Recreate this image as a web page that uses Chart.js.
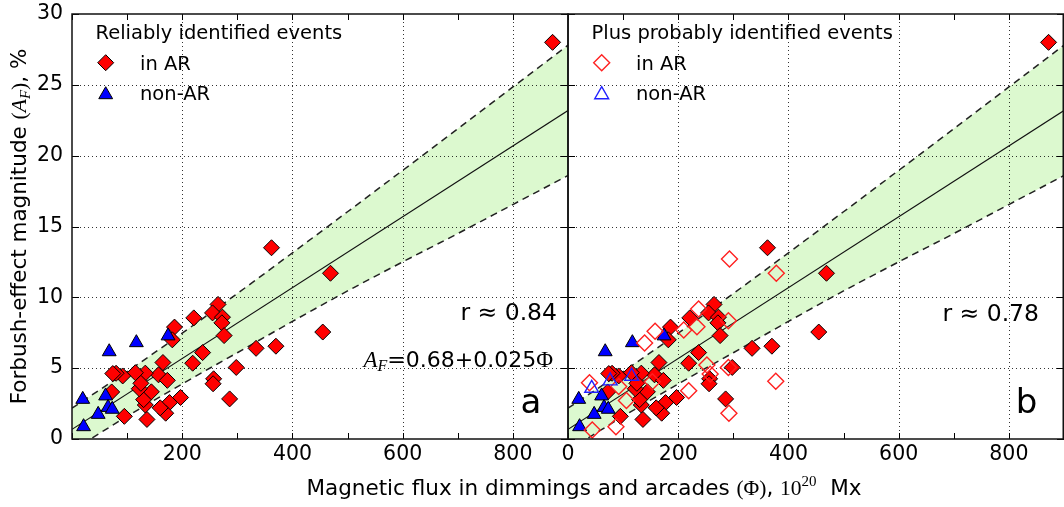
<!DOCTYPE html>
<html>
<head>
<meta charset="utf-8">
<script src="https://cdn.jsdelivr.net/npm/chart.js@4/dist/chart.umd.min.js"></script>
<style>
  html, body { margin: 0; padding: 0; background: #fff; }
  #wrap { width: 1064px; height: 507px; }
</style>
</head>
<body>
<div id="wrap"><canvas id="c" width="1064" height="507"></canvas></div>
<script>
// values: flux in 1e20 Mx, Forbush-effect magnitude in %

// reliably identified events in active regions (filled red diamonds, both panels)
const arFlux = [362, 265, 255, 273, 272, 221, 186, 182, 276, 237, 219, 334, 370, 298, 257, 256, 286,
  165, 157, 173, 197, 177, 170, 160, 136, 133, 130, 144, 122, 133, 115, 125, 92, 80, 74, 72, 95, 455, 469, 872];
const arAmp = [13.5, 9.5, 8.9, 8.6, 8.2, 8.55, 7.9, 7.0, 7.3, 6.1, 5.35, 6.4, 6.55, 5.05, 4.25, 3.9, 2.83,
  5.4, 4.53, 4.14, 2.93, 2.57, 1.82, 2.2, 1.38, 2.4, 2.78, 3.33, 3.55, 4.65, 4.68, 3.93, 4.45, 4.64, 4.62, 3.32, 1.6, 7.55, 11.7, 28.0];

// reliably identified non-AR events (filled blue triangles, both panels)
const nonArFlux = [19.5, 21, 47.5, 61, 65.5, 73, 67.5, 116.8, 174.3];
const nonArAmp = [2.8, 0.87, 1.74, 3.04, 2.23, 2.1, 6.16, 6.8, 7.28];

// probably identified events, panel b only (open markers)
const arProbFlux = [293, 378, 237, 234, 210, 291, 158, 139, 252, 258, 291, 377, 219, 292, 39, 44, 87, 106, 92, 153];
const arProbAmp = [12.7, 11.7, 9.18, 7.92, 7.7, 8.34, 7.6, 6.78, 5.23, 4.58, 5.05, 4.07, 3.4, 1.81, 3.97, 0.64, 0.87, 2.72, 3.7, 4.04];
const nonArProbFlux = [43, 76.5, 115.5];
const nonArProbAmp = [3.58, 4.1, 4.43];

// regression line and the dashed band around it
const fitFlux = [0, 900];
const fitAmp = [0.68, 23.18];
const bandFlux = [0, 100, 200, 300, 400, 500, 600, 700, 800, 900];
const bandUpper = [2.18, 4.76, 7.47, 10.27, 13.14, 16.04, 18.96, 21.9, 24.85, 27.8];
const bandLower = [-0.82, 1.6, 3.89, 6.09, 8.3, 10.45, 12.5, 14.5, 16.55, 18.6];

// ticks
const fluxLabelled = [0, 200, 400, 600, 800];
const ampStep = 5;

const SANS = "'DejaVu Sans'";
const SERIF = "'Liberation Serif'";
const BAND = 'rgb(220, 249, 207)';
const DIAMOND_R = 8;
const TRIANGLE_R = 8;

const pts = (xs, ys) => xs.map((x, i) => ({ x: x, y: ys[i] }));

function panelSets(axisId, withProbable) {
  const dashed = { type: 'line', pointRadius: 0, borderColor: '#222', borderWidth: 1.5,
    borderDash: [7, 5], cubicInterpolationMode: 'monotone' };
  const sets = [
    Object.assign({}, dashed, { isBand: true, data: pts(bandFlux, bandUpper), fill: '+1', backgroundColor: BAND, order: 9 }),
    Object.assign({}, dashed, { data: pts(bandFlux, bandLower), fill: false, order: 8 }),
    { type: 'line', data: pts(fitFlux, fitAmp), borderColor: '#111', borderWidth: 1.2, pointRadius: 0, fill: false, order: 7 },
    { data: pts(arFlux, arAmp), pointStyle: 'rectRot', pointRadius: DIAMOND_R,
      pointBackgroundColor: '#ff0000', pointBorderColor: '#000', pointBorderWidth: 1, order: 4 },
    { data: pts(nonArFlux, nonArAmp), pointStyle: 'triangle', pointRadius: TRIANGLE_R,
      pointBackgroundColor: '#0000ff', pointBorderColor: '#000', pointBorderWidth: 1, order: 3 }
  ];
  if (withProbable) {
    sets.push({ data: pts(arProbFlux, arProbAmp), pointStyle: 'rectRot', pointRadius: DIAMOND_R,
      pointBackgroundColor: 'rgba(0,0,0,0)', pointBorderColor: '#ff2020', pointBorderWidth: 1.4, order: 2 });
    sets.push({ data: pts(nonArProbFlux, nonArProbAmp), pointStyle: 'triangle', pointRadius: TRIANGLE_R,
      pointBackgroundColor: 'rgba(0,0,0,0)', pointBorderColor: '#2020ff', pointBorderWidth: 1.4, order: 1 });
  }
  sets.forEach(s => { s.xAxisID = axisId; s.yAxisID = 'y'; });
  return sets;
}

function fluxAxis(hideZero) {
  return {
    type: 'linear', position: 'bottom', stack: 'panels', stackWeight: 1,
    min: 0, max: 900,
    grid: { display: false, drawTicks: false },
    border: { display: false },
    ticks: {
      stepSize: 100, autoSkip: false, maxRotation: 0, padding: 3, color: '#000',
      font: { family: SANS, size: 20.5 },
      callback: v => (fluxLabelled.includes(v) && !(hideZero && v === 0)) ? String(v) : ''
    },
    afterFit: s => { s.height = 68; s.paddingLeft = 0; s.paddingRight = 0; }
  };
}

function richText(ctx, parts, x, y, align) {
  let w = 0;
  parts.forEach(p => { ctx.font = p[1]; w += ctx.measureText(p[0]).width; });
  let cx = align === 'right' ? x - w : (align === 'center' ? x - w / 2 : x);
  ctx.fillStyle = '#000';
  ctx.textAlign = 'left';
  ctx.textBaseline = 'alphabetic';
  parts.forEach(p => {
    ctx.font = p[1];
    ctx.fillText(p[0], cx, y + (p[2] || 0));
    cx += ctx.measureText(p[0]).width;
  });
}

function marker(ctx, style, x, y, r, fill, stroke, lw) {
  ctx.beginPath();
  if (style === 'rectRot') {
    ctx.moveTo(x, y - r); ctx.lineTo(x + r, y); ctx.lineTo(x, y + r); ctx.lineTo(x - r, y);
  } else {
    const k = Math.sin(2 * Math.PI / 3) * r;
    ctx.moveTo(x, y - r); ctx.lineTo(x + k, y + r / 2); ctx.lineTo(x - k, y + r / 2);
  }
  ctx.closePath();
  if (fill) { ctx.fillStyle = fill; ctx.fill(); }
  ctx.lineWidth = lw; ctx.strokeStyle = stroke; ctx.stroke();
}

function drawGrid(chart) {
  const { ctx, chartArea: a, scales } = chart;
  const ys = scales.y;
  ctx.save();
  ctx.strokeStyle = 'rgba(0,0,0,0.8)';
  ctx.lineWidth = 1;
  ctx.setLineDash([1, 3]);
  ctx.beginPath();
  ['x', 'x2'].forEach(id => {
    const s = scales[id];
    s.ticks.forEach(t => {
      if (t.value <= s.min || t.value >= s.max || !fluxLabelled.includes(t.value)) return;
      const px = Math.round(s.getPixelForValue(t.value)) + 0.5;
      ctx.moveTo(px, a.top); ctx.lineTo(px, a.bottom);
    });
    ys.ticks.forEach(t => {
      if (t.value <= ys.min || t.value >= ys.max) return;
      const py = Math.round(ys.getPixelForValue(t.value)) + 0.5;
      ctx.moveTo(s.left, py); ctx.lineTo(s.right, py);
    });
  });
  ctx.stroke();
  ctx.restore();
}

function drawFrames(chart) {
  const { ctx, chartArea: a, scales } = chart;
  const ys = scales.y;
  ctx.save();
  ctx.strokeStyle = '#000';
  ctx.lineWidth = 1;
  ctx.beginPath();
  ['x', 'x2'].forEach(id => {
    const s = scales[id];
    s.ticks.forEach(t => {
      const px = Math.round(s.getPixelForValue(t.value)) + 0.5;
      ctx.moveTo(px, a.bottom); ctx.lineTo(px, a.bottom - 6);
      ctx.moveTo(px, a.top); ctx.lineTo(px, a.top + 6);
    });
    ys.ticks.forEach(t => {
      const py = Math.round(ys.getPixelForValue(t.value)) + 0.5;
      ctx.moveTo(s.left, py); ctx.lineTo(s.left + 7, py);
      ctx.moveTo(s.right, py); ctx.lineTo(s.right - 7, py);
    });
  });
  ctx.stroke();
  ctx.lineWidth = 1.5;
  ctx.strokeStyle = '#111';
  ['x', 'x2'].forEach(id => {
    const s = scales[id];
    const r = Math.min(s.right, chart.width - 0.75);
    ctx.strokeRect(s.left, a.top, r - s.left, a.bottom - a.top);
  });
  ctx.restore();
}

function drawTexts(chart) {
  const { ctx, chartArea: a, scales } = chart;
  const la = scales.x.left, lb = scales.x2.left;
  const ra = scales.x.right, rb = scales.x2.right;
  ctx.save();

  // legends
  const lf = '19.5px ' + SANS;
  richText(ctx, [['Reliably identified events', lf]], la + 23.5, 38.5, 'left');
  marker(ctx, 'rectRot', la + 33.7, 62.7, DIAMOND_R, '#ff0000', '#000', 1);
  richText(ctx, [['in AR', lf]], la + 68, 69.5, 'left');
  marker(ctx, 'triangle', la + 33.7, 94.7, TRIANGLE_R, '#0000ff', '#000', 1);
  richText(ctx, [['non-AR', lf]], la + 68, 99.5, 'left');

  richText(ctx, [['Plus probably identified events', lf]], lb + 23.5, 38.5, 'left');
  marker(ctx, 'rectRot', lb + 33.7, 62.7, DIAMOND_R, null, '#ff2020', 1.4);
  richText(ctx, [['in AR', lf]], lb + 68, 69.5, 'left');
  marker(ctx, 'triangle', lb + 33.7, 94.7, TRIANGLE_R, null, '#2020ff', 1.4);
  richText(ctx, [['non-AR', lf]], lb + 68, 99.5, 'left');

  // correlation, fit and panel letters
  const rf = '23.5px ' + SANS;
  richText(ctx, [['r \u2248 0.84', rf]], ra - 11, 320, 'right');
  richText(ctx, [['r \u2248 0.78', rf]], rb - 25, 320.5, 'right');
  richText(ctx, [
    ['A', 'italic 23px ' + SERIF], ['F', 'italic 16px ' + SERIF, 4],
    ['=0.68+0.025', '22px ' + SANS], ['\u03A6', '23px ' + SERIF]
  ], ra - 15, 367, 'right');
  richText(ctx, [['a', '34px ' + SANS]], ra - 37, 413.3, 'center');
  richText(ctx, [['b', '34px ' + SANS]], rb - 37.5, 413.3, 'center');

  // axis titles
  const tf = '21.5px ' + SANS;
  richText(ctx, [
    ['Magnetic flux in dimmings and arcades ', tf], ['(\u03A6)', '21.5px ' + SERIF], [', ', tf],
    ['10', '21.5px ' + SERIF], ['20', '15px ' + SERIF, -9], ['  Mx', tf]
  ], 584, 495, 'center');

  ctx.translate(26, (a.top + a.bottom) / 2);
  ctx.rotate(-Math.PI / 2);
  richText(ctx, [
    ['Forbush-effect magnitude ', tf], ['(', '21.5px ' + SERIF], ['A', 'italic 21.5px ' + SERIF],
    ['F', 'italic 15px ' + SERIF, 4], [')', '21.5px ' + SERIF], [', %', tf]
  ], 0, 0, 'center');
  ctx.restore();
}

const decor = {
  id: 'decor',
  beforeDatasetsDraw(chart) { chart.$gridDone = false; },
  beforeDatasetDraw(chart, args) {
    if (chart.$gridDone || chart.data.datasets[args.index].isBand) return;
    chart.$gridDone = true;
    drawGrid(chart);
  },
  afterDatasetsDraw(chart) { drawFrames(chart); },
  afterDraw(chart) { drawTexts(chart); }
};

Chart.defaults.font.family = SANS;
Chart.defaults.color = '#000';

new Chart(document.getElementById('c'), {
  type: 'scatter',
  data: { datasets: panelSets('x', false).concat(panelSets('x2', true)) },
  options: {
    responsive: false,
    animation: false,
    devicePixelRatio: 1,
    events: [],
    layout: { autoPadding: false, padding: { top: 14, right: 0, left: 0, bottom: 0 } },
    plugins: { legend: { display: false }, tooltip: { enabled: false } },
    scales: {
      x: fluxAxis(true),
      x2: fluxAxis(false),
      y: {
        type: 'linear', position: 'left', min: 0, max: 30,
        grid: { display: false, drawTicks: false },
        border: { display: false },
        ticks: { stepSize: ampStep, padding: 9, color: '#000', font: { family: SANS, size: 20.5 } },
        afterFit: s => { s.width = 72; s.paddingTop = 0; s.paddingBottom = 0; }
      }
    }
  },
  plugins: [decor]
});
</script>
</body>
</html>
